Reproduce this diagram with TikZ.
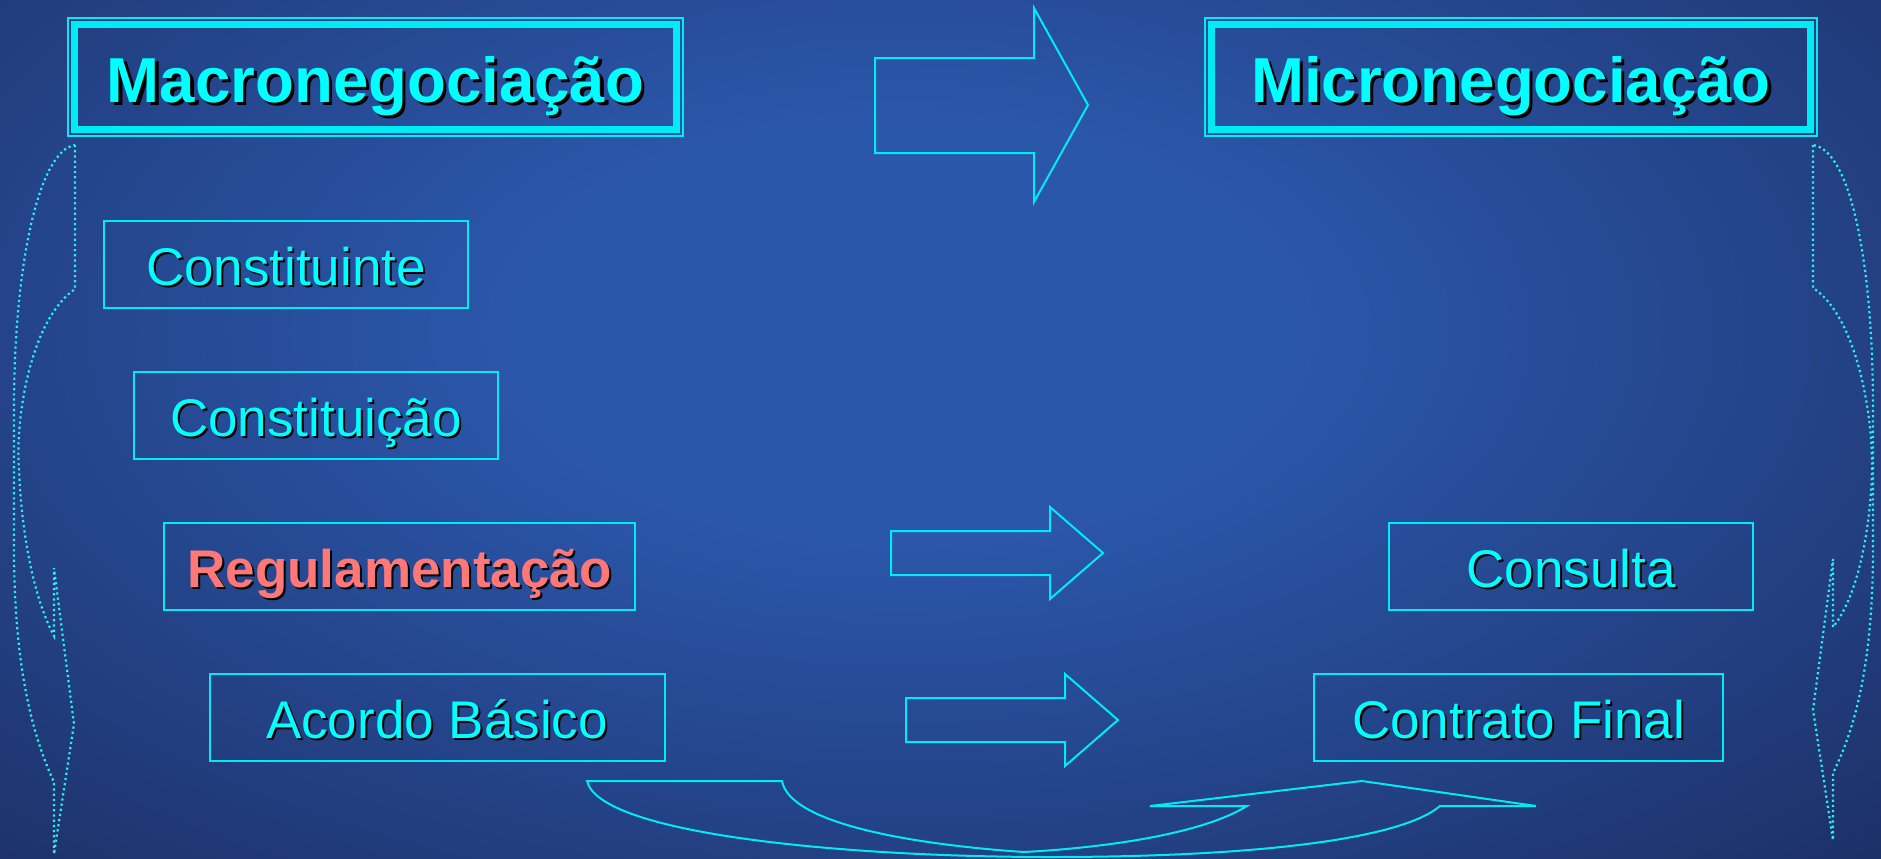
\documentclass[tikz,border=0pt]{standalone}
\usepackage{fontspec}
\setmainfont{Liberation Sans}
\usetikzlibrary{positioning}

\definecolor{glowin}{RGB}{43,87,171}
\definecolor{glowout}{RGB}{26,41,90}
\definecolor{linecyan}{RGB}{0,236,245}
\definecolor{textcyan}{RGB}{0,255,255}
\definecolor{salmon}{RGB}{255,119,119}

\pgfdeclareradialshading{slideglow}{\pgfpoint{0bp}{0bp}}{color(0bp)=(glowin); color(9bp)=(glowin); color(38bp)=(glowout); color(72bp)=(glowout)}

\newcommand\shadowed[2][1pt]{\makebox[0pt][l]{\hspace*{#1}\raisebox{-#1}[0pt][0pt]{\color{black}#2}}#2}

\tikzset{
  stagebox/.style={draw=linecyan, line width=1pt, minimum height=43.5pt, inner sep=0pt,
    text height=21pt, text depth=0pt, text=textcyan, font=\fontsize{26.5}{30}\selectfont},
  titlebox/.style={draw=linecyan, line width=3.5pt, minimum width=301pt, minimum height=52.5pt, inner sep=0pt,
    text height=25pt, text depth=0pt, text=textcyan, font=\fontsize{31.8}{36}\selectfont\bfseries},
  blockarrow/.style={draw=linecyan, line width=1pt, line join=miter},
  sidecurve/.style={draw=linecyan!85!white, line width=1.1pt, dash pattern=on 1.1pt off 1.5pt},
}

\begin{document}
\begin{tikzpicture}[x=0.5pt, y=-0.5pt]
          \useasboundingbox (0,0) rectangle (1881,858);
          \begin{scope}
            \clip (0,0) rectangle (1881,858);
            \shade[shading=slideglow] (-150,-230) rectangle (1950,890);
          \end{scope}

          \node[titlebox] (macro) at (375.5,77) {\shadowed[1.6pt]{Macronegociação}};
          \node[titlebox, minimum width=299.5pt] (micro) at (1511,77) {\shadowed[1.6pt]{Micronegociação}};
          \draw[linecyan, line width=1pt] ([shift={(-1.5pt,1.5pt)}]macro.north west) rectangle ([shift={(1.5pt,-1.5pt)}]macro.south east);
          \draw[linecyan, line width=1pt] ([shift={(-1.5pt,1.5pt)}]micro.north west) rectangle ([shift={(1.5pt,-1.5pt)}]micro.south east);

          \node[stagebox, minimum width=182pt] (constituinte) at (286,264) {\shadowed{Constituinte}};
          \node[stagebox, minimum width=182pt] (constituicao) at (316,415) {\shadowed{Constituição}};
          \node[stagebox, minimum width=235.5pt, text=salmon, font=\fontsize{26.5}{30}\selectfont\bfseries] (regulamentacao) at (399.5,566.5) {\shadowed{Regulamentação}};
          \node[stagebox, minimum width=227.5pt] (acordo) at (437,717) {\shadowed{Acordo Básico}};
          \node[stagebox, minimum width=182pt] (consulta) at (1571,566.5) {\shadowed{Consulta}};
          \node[stagebox, minimum width=204.5pt] (contrato) at (1518.5,717.5) {\shadowed{Contrato Final}};

          \draw[blockarrow] (875,58) -- (1034,58) -- (1034,8) -- (1088,105) -- (1034,202) -- (1034,153) -- (875,153) -- cycle;
          \foreach \ax/\ay in {891/553, 906/720}
            \draw[blockarrow] (\ax,\ay-22) -- ++(159,0) -- ++(0,-24) -- ++(53,46) -- ++(-53,46) -- ++(0,-24) -- ++(-159,0) -- cycle;

          \draw[blockarrow] (782,781) -- (587,781)
            .. controls (600,835) and (850,857) .. (1050,857)
            .. controls (1250,857) and (1400,840) .. (1440,806)
            -- (1536,806) -- (1362,781) -- (1150,806) -- (1247,806)
            .. controls (1200,835) and (1100,848) .. (1024,852)
            .. controls (920,845) and (790,825) .. (782,781) -- cycle;

          \draw[sidecurve] (75,145) -- (75,289)
            .. controls (30,320) and (15,420) .. (19,470)
            .. controls (22,540) and (35,600) .. (54,636)
            -- (54,568) -- (74,724) -- (54,854) -- (54,782)
            .. controls (25,720) and (14,640) .. (14,548) -- (14,409)
            .. controls (14,260) and (40,150) .. (75,145);
          \draw[sidecurve] (1813,145) -- (1813,288)
            .. controls (1855,315) and (1873,410) .. (1872,470)
            .. controls (1870,540) and (1855,600) .. (1833,627)
            -- (1833,559) -- (1813,710) -- (1833,840) -- (1833,773)
            .. controls (1862,715) and (1873,640) .. (1873,548) -- (1873,409)
            .. controls (1873,260) and (1850,150) .. (1813,145);
        \end{tikzpicture}
\end{document}
